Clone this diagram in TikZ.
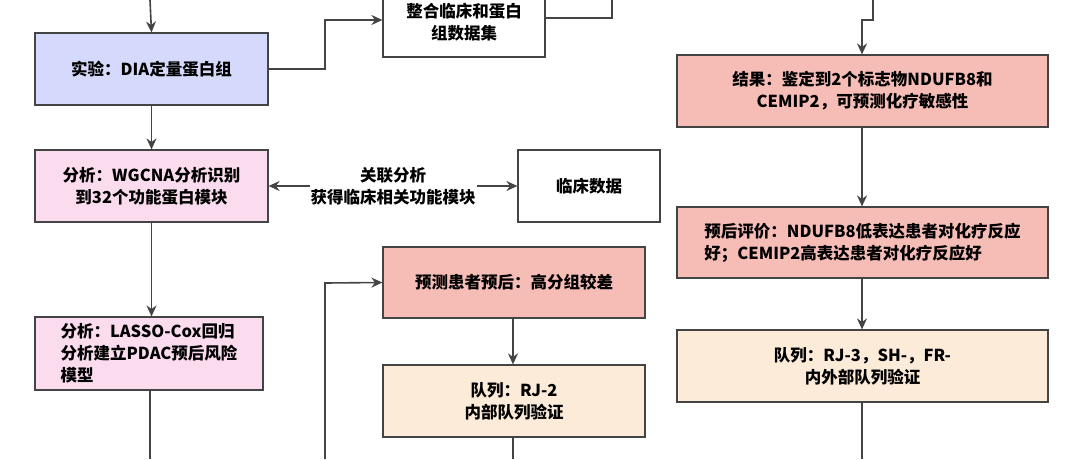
\documentclass[tikz,border=0pt]{standalone}
\usepackage{fontspec}
\setmainfont{Noto Sans CJK SC}
\usetikzlibrary{arrows.meta}
\definecolor{lav}{HTML}{D5D9FB}
\definecolor{pnk}{HTML}{FADCEE}
\definecolor{sal}{HTML}{F6BCB6}
\definecolor{pch}{HTML}{FDEBD9}
\definecolor{edge}{HTML}{444444}
\begin{document}
\begin{tikzpicture}[x=1pt,y=-1pt,
  box/.style={draw=edge,line width=1.2pt,align=center,font=\fontsize{16.5}{22}\selectfont\bfseries,inner sep=2pt},
  ar/.style={draw=edge,line width=1.6pt,-{Stealth[length=11pt,width=10pt]}},
  ln/.style={draw=edge,line width=1.6pt}]
\useasboundingbox[fill=white] (0,0) rectangle (1080,459);
\node[box,fill=lav,minimum width=233pt,minimum height=72pt] (dia) at (151.5,69) {实验：DIA定量蛋白组};
\node[box,fill=white,minimum width=162pt,minimum height=72pt,text depth=0pt] (int) at (464,21) {整合临床和蛋白\\组数据集};
\node[box,fill=pnk,minimum width=233pt,minimum height=72pt] (wg) at (151.5,186) {分析：WGCNA分析识别\\到32个功能蛋白模块};
\node[box,fill=white,minimum width=142pt,minimum height=72pt] (cl) at (589,186) {临床数据};
\node[box,fill=pnk,minimum width=228pt,minimum height=73pt,align=left] (la) at (149,353.5) {分析：LASSO-Cox回归\\分析建立PDAC预后风险\\模型};
\node[box,fill=sal,minimum width=262pt,minimum height=71pt] (pr) at (514,282.5) {预测患者预后：高分组较差};
\node[box,fill=pch,minimum width=262pt,minimum height=72pt] (rj2) at (514,401) {队列：RJ-2\\内部队列验证};
\node[box,fill=sal,minimum width=371pt,minimum height=72pt] (res) at (862.5,91) {结果：鉴定到2个标志物NDUFB8和\\CEMIP2，可预测化疗敏感性};
\node[box,fill=sal,minimum width=371pt,minimum height=71pt,align=left] (ev) at (862.5,242.5) {预后评价：NDUFB8低表达患者对化疗反应\\好；CEMIP2高表达患者对化疗反应好};
\node[box,fill=pch,minimum width=371pt,minimum height=72pt] (rj3) at (862.5,366) {队列：RJ-3，SH-，FR-\\内外部队列验证};
\coordinate (t1) at (150,0);
\coordinate (t2) at (612,0);
\coordinate (t3) at (873,0);
\coordinate (b1) at (150,459);
\coordinate (b2) at (325,459);
\coordinate (b3) at (513,459);
\coordinate (b4) at (862,459);
\draw[ar] (t1) -- (dia.north);
\draw[ar] (dia.east) -- (325,69) -- (325,20) -- (int.west |- 0,20);
\draw[ln] (int.east |- 0,18) -- (612,18) -- (t2);
\draw[ar] (dia.south) -- (wg.north);
\draw[ar,{Stealth[length=11pt,width=10pt]}-{Stealth[length=11pt,width=10pt]}] (wg.east) -- (cl.west) node[midway,fill=white,font=\fontsize{16.5}{22}\selectfont\bfseries,align=center,inner sep=1pt] {关联分析\\获得临床相关功能模块};
\draw[ar] (wg.south) -- (la.north -| wg.south);
\draw[ln] (la.south -| b1) -- (b1);
\draw[ar] (b2) -- (325,283) -- (pr.west);
\draw[ar] (pr.south -| b3) -- (rj2.north -| b3);
\draw[ln] (rj2.south -| b3) -- (b3);
\draw[ar] (t3) -- (873,20) -- (862,20) -- (res.north -| b4);
\draw[ar] (res.south -| b4) -- (ev.north -| b4);
\draw[ar] (ev.south -| b4) -- (rj3.north -| b4);
\draw[ln] (rj3.south -| b4) -- (b4);
\end{tikzpicture}
\end{document}
